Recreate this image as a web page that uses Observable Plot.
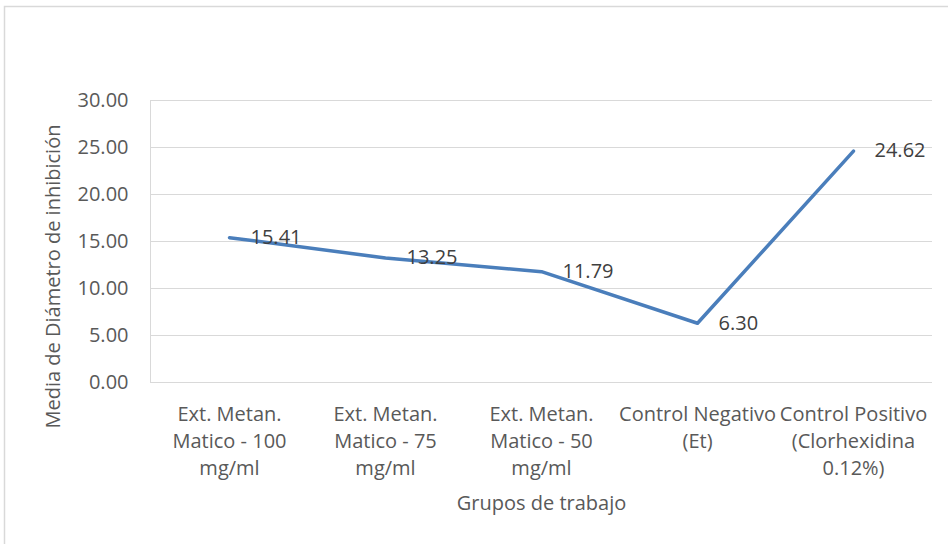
<!DOCTYPE html>
<html>
<head>
<meta charset="utf-8">
<script src="https://cdn.jsdelivr.net/npm/d3@7"></script>
<script src="https://cdn.jsdelivr.net/npm/@observablehq/plot@0.6"></script>
<style>
  html, body { margin: 0; padding: 0; background: #fff; }
</style>
</head>
<body>
<div id="chart"></div>
<script>
const categories = ["g100", "g75", "g50", "neg", "pos"];
const categoryLabels = [
  "Ext. Metan.\nMatico - 100\nmg/ml",
  "Ext. Metan.\nMatico - 75\nmg/ml",
  "Ext. Metan.\nMatico - 50\nmg/ml",
  "Control Negativo\n(Et)",
  "Control Positivo\n(Clorhexidina\n0.12%)"
];
const values = [15.41, 13.25, 11.79, 6.30, 24.62];
const yTicks = [0, 5, 10, 15, 20, 25, 30];
const xTitle = "Grupos de trabajo";
const yTitle = "Media de Diámetro de inhibición";

const data = categories.map((c, i) => ({cat: c, label: categoryLabels[i], v: values[i]}));
const labelOf = new Map(categories.map((c, i) => [c, categoryLabels[i]]));

const chartFrame = (index, scales, values, dims) => {
  const g = d3.create("svg:g");
  g.append("path")
    .attr("d", `M4.5,${dims.height + 5}V6.5H${dims.width + 5}`)
    .attr("fill", "none")
    .attr("stroke", "#d9d9d9")
    .attr("stroke-width", 1.5);
  g.append("line")
    .attr("x1", dims.marginLeft + 0.5).attr("x2", dims.marginLeft + 0.5)
    .attr("y1", dims.marginTop).attr("y2", dims.height - dims.marginBottom)
    .attr("stroke", "#d9d9d9");
  return g.node();
};

const FS = 20;

const chart = Plot.plot({
  width: 948,
  height: 544,
  marginLeft: 150,
  marginRight: 16,
  marginTop: 100,
  marginBottom: 162,
  style: {fontFamily: "'Open Sans', sans-serif", fontSize: FS + "px", color: "#595959", background: "#fff"},
  x: {type: "point", domain: categories, padding: 0.5, axis: null},
  y: {domain: [0, 30], axis: null},
  marks: [
    chartFrame,
    Plot.ruleY(yTicks, {stroke: "#d9d9d9", strokeWidth: 1}),
    Plot.axisY(yTicks, {tickSize: 0, tickPadding: 22, tickFormat: d3.format(".2f"), fontSize: FS, fill: "#595959", label: null}),
    Plot.line(data, {x: "cat", y: "v", stroke: "#4a7ebb", strokeWidth: 3.5, strokeLinecap: "round", strokeLinejoin: "round"}),
    Plot.text(data, {x: "cat", y: "v", text: d => d.v.toFixed(2), dx: 21, textAnchor: "start", fontSize: FS, fill: "#404040"}),
    Plot.text(categories, {x: d => d, frameAnchor: "bottom", dy: 20, lineAnchor: "top", lineHeight: 1.33, text: d => labelOf.get(d), fontSize: FS, fill: "#595959"}),
    Plot.text([xTitle], {frameAnchor: "bottom", dy: 121, lineAnchor: "middle", textAnchor: "middle", text: d => d, fontSize: FS, fill: "#595959"}),
    Plot.text([yTitle], {frameAnchor: "left", dx: -97, dy: 35, rotate: -90, textAnchor: "middle", lineAnchor: "middle", text: d => d, fontSize: FS, fill: "#595959"})
  ]
});

document.getElementById("chart").appendChild(chart);
</script>
</body>
</html>
